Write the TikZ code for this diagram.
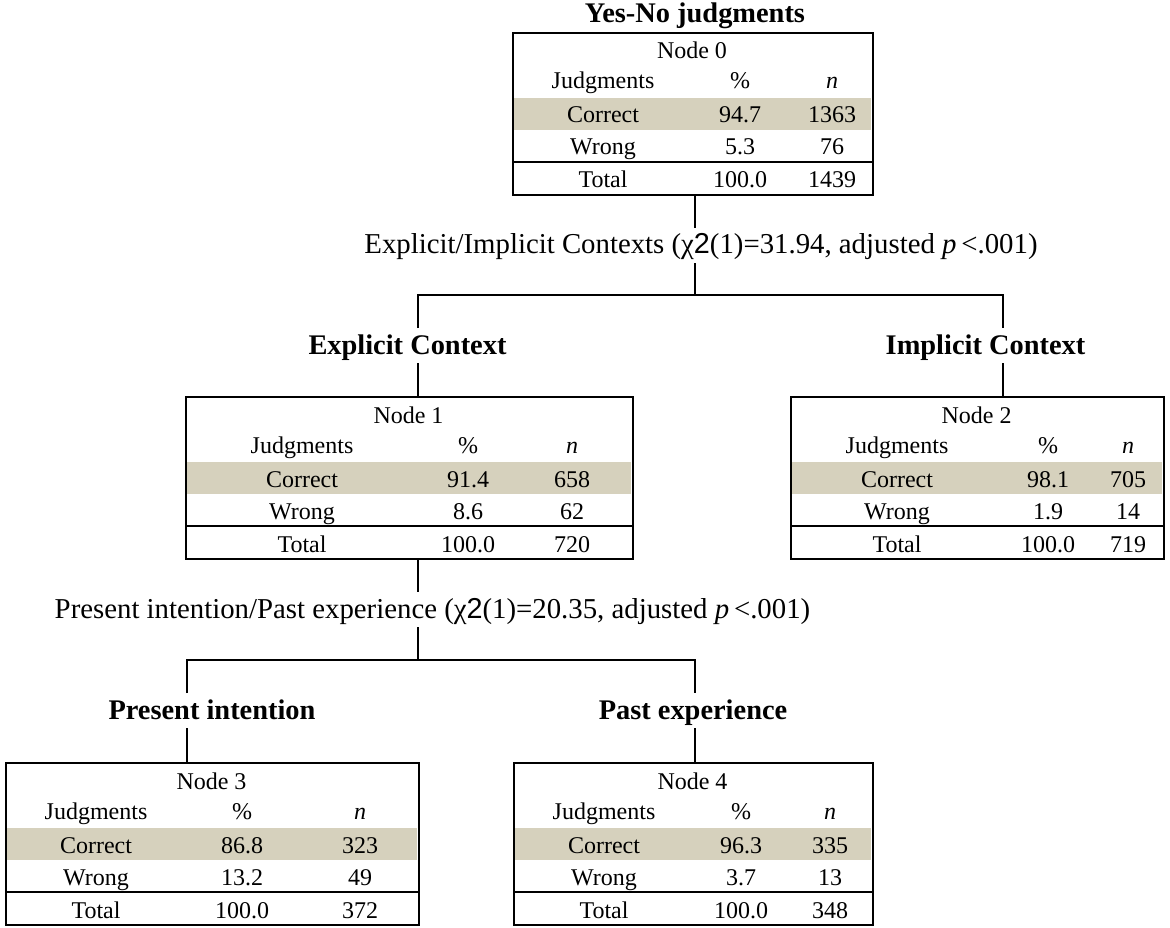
\documentclass[tikz,border=0pt]{standalone}
\usepackage{fontspec}
\setmainfont{Liberation Serif}
\newfontfamily\sansf{Liberation Sans}
\definecolor{band}{RGB}{214,209,189}
\tikzset{
  tbox/.style={draw, line width=1.8pt, anchor=north west, inner sep=0pt},
  cell/.style={anchor=base, inner sep=0pt, font=\fontsize{24}{28}\selectfont},
  ttl/.style={anchor=base, inner sep=0pt, font=\fontsize{28.4}{32}\selectfont\bfseries},
  splitlab/.style={anchor=base, inner sep=0pt, font=\fontsize{28.8}{32}\selectfont},
  conn/.style={line width=1.8pt},
}
% #1 name, #2 left, #3 top, #4 width, #5 index, #6 #7 #8 column centres
\newcommand{\jbox}[8]{%
  \def\ca{#6}\def\cb{#7}\def\cc{#8}\def\tp{#3}%
  \fill[band] (#2+1,#3+66) rectangle (#2+#4-1,#3+98);
  \node[tbox, minimum width=#4pt, minimum height=162pt] (#1) at (#2,#3) {};
  \draw[line width=1.8pt] (#2,#3+130) -- (#2+#4,#3+130);
  \node[cell] (#1t) at (#2+#4/2,#3+27) {Node #5};
  \node[cell] (#1h1) at (#6,#3+57) {Judgments};
  \node[cell] (#1h2) at (#7,#3+57) {\%};
  \node[cell] (#1h3) at (#8,#3+57) {\textit{n}};
}
% #1 name, then correct %, n, wrong %, n, total %, n
\newcommand{\jrows}[7]{%
  \node[cell] (#1a1) at (\ca,\tp+91) {Correct};
  \node[cell] (#1a2) at (\cb,\tp+91) {#2};
  \node[cell] (#1a3) at (\cc,\tp+91) {#3};
  \node[cell] (#1b1) at (\ca,\tp+123) {Wrong};
  \node[cell] (#1b2) at (\cb,\tp+123) {#4};
  \node[cell] (#1b3) at (\cc,\tp+123) {#5};
  \node[cell] (#1c1) at (\ca,\tp+156) {Total};
  \node[cell] (#1c2) at (\cb,\tp+156) {#6};
  \node[cell] (#1c3) at (\cc,\tp+156) {#7};
}
\begin{document}
\begin{tikzpicture}[x=1pt,y=-1pt]
\useasboundingbox (0,0) rectangle (1170,928);

% tables
\jbox{n0}{512}{32}{360}{0}{603}{740}{832}
\jrows{n0}{94.7}{1363}{5.3}{76}{100.0}{1439}
\jbox{n1}{185}{396}{447}{1}{302}{468}{572}
\jrows{n1}{91.4}{658}{8.6}{62}{100.0}{720}
\jbox{n2}{790}{396}{373}{2}{897}{1048}{1128}
\jrows{n2}{98.1}{705}{1.9}{14}{100.0}{719}
\jbox{n3}{5}{762}{413}{3}{96}{242}{360}
\jrows{n3}{86.8}{323}{13.2}{49}{100.0}{372}
\jbox{n4}{513}{762}{359}{4}{604}{741}{830}
\jrows{n4}{96.3}{335}{3.7}{13}{100.0}{348}

% titles
\node[ttl] (t0) at (695,23) {Yes-No judgments};
\node[ttl] (t1) at (407.5,354) {Explicit Context};
\node[ttl] (t2) at (985.5,354) {Implicit Context};
\node[ttl] (t3) at (212,719) {Present intention};
\node[ttl] (t4) at (693,719) {Past experience};

% split labels
\node[splitlab] (s1) at (701,254) {Explicit/Implicit Contexts (χ{\sansf 2}(1)=31.94, adjusted \textit{p}\,<.001)};
\node[splitlab] (s2) at (432.5,618) {Present intention/Past experience (χ{\sansf 2}(1)=20.35, adjusted \textit{p}\,<.001)};

% connector points
\coordinate (p0) at (695,228);  \coordinate (p1) at (695,263);
\coordinate (h1l) at (418,295); \coordinate (h1r) at (1003,295);
\coordinate (e1) at (418,328);  \coordinate (e2) at (418,363);
\coordinate (i1) at (1003,328); \coordinate (i2) at (1003,363);
\coordinate (q0) at (418,592);  \coordinate (q1) at (418,627);
\coordinate (h2l) at (187,660); \coordinate (h2r) at (695,660);
\coordinate (r1) at (187,693);  \coordinate (r2) at (187,728);
\coordinate (u1) at (695,693);  \coordinate (u2) at (695,728);

% connectors
\draw[conn] (n0.south -| p0) -- (p0);
\draw[conn] (p1) -- (p1 |- h1l);
\draw[conn] (e1) -- (h1l) -- (h1r) -- (i1);
\draw[conn] (e2) -- (n1.north -| e2);
\draw[conn] (i2) -- (n2.north -| i2);
\draw[conn] (n1.south -| q0) -- (q0);
\draw[conn] (q1) -- (q1 |- h2l);
\draw[conn] (r1) -- (h2l) -- (h2r) -- (u1);
\draw[conn] (r2) -- (n3.north -| r2);
\draw[conn] (u2) -- (n4.north -| u2);
\end{tikzpicture}
\end{document}
